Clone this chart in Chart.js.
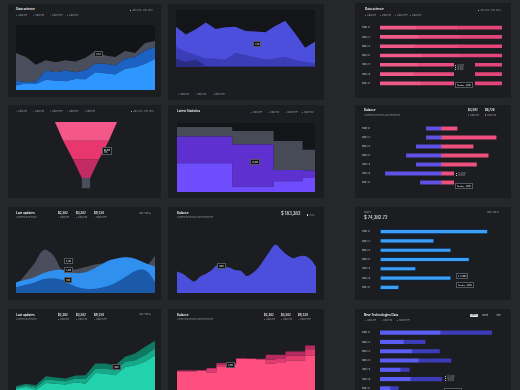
<!DOCTYPE html>
<html>
<head>
<meta charset="utf-8">
<title>Dashboard</title>
<script src="https://cdn.jsdelivr.net/npm/chart.js@4.4.1/dist/chart.umd.min.js"></script>
<style>
  html, body { margin: 0; padding: 0; }
  body { position: relative; width: 520px; height: 390px; overflow: hidden; background: #26272b; font-family: Inter, Roboto, sans-serif; }
  .card { position: absolute; background: #1c1d21; overflow: hidden; }
  .plot { position: absolute; }
  .txt { position: absolute; white-space: nowrap; line-height: 1; }
  .title { font-size: 3px; color: #fff; font-weight: 600; }
  .sub { font-size: 2px; color: #8b8d96; }
  .leg { font-size: 2px; color: #9a9ca5; }
  .val { font-size: 2.8px; color: #fff; font-weight: 600; }
  .big { font-size: 4.2px; color: #fff; }
  .pill { font-size: 2px; color: #c9cad0; padding: 0.6px 1.2px; border-radius: 1px; }
  .pill.on { background: #e8e9ec; color: #1c1d21; }
  .dot { display: inline-block; width: 1.3px; height: 1.3px; border-radius: 50%; margin-right: 1px; vertical-align: middle; }
  .tip { position: absolute; background: #111215; border: 0.5px solid #55575f; color: #fff; font-size: 1.8px; line-height: 1.4; padding: 0.5px 1px; white-space: nowrap; }
  .cover { position: absolute; background: #1c1d21; }
</style>
</head>
<body>

<div class="card" id="c1" style="left:8px;top:4px;width:153px;height:93px">
  <div class="plot" style="left:1px;top:21px;width:146px;height:65px"><canvas id="science"></canvas></div>
</div>
<div class="card" id="c2" style="left:168px;top:4px;width:156px;height:96px">
  <div class="plot" style="left:2px;top:6px;width:145px;height:71px"><canvas id="wave"></canvas></div>
</div>
<div class="card" id="c3" style="left:355px;top:3px;width:156px;height:95px">
  <div class="plot" style="left:7px;top:20px;width:140px;height:70px"><canvas id="pinkBars"></canvas></div>
</div>

<div class="card" id="c4" style="left:8px;top:105px;width:153px;height:93px">
  <div class="plot" style="left:1px;top:16px;width:146px;height:70px"><canvas id="funnel"></canvas></div>
</div>
<div class="card" id="c5" style="left:168px;top:105px;width:156px;height:93px">
  <div class="plot" style="left:3px;top:18px;width:144px;height:69px"><canvas id="stats"></canvas></div>
</div>
<div class="card" id="c6" style="left:355px;top:105px;width:156px;height:93px">
  <div class="plot" style="left:7px;top:19px;width:135px;height:68px"><canvas id="balanceSplit"></canvas></div>
</div>

<div class="card" id="c7" style="left:8px;top:207px;width:153px;height:93px">
  <div class="plot" style="left:1px;top:18px;width:146px;height:68px"><canvas id="updates"></canvas></div>
</div>
<div class="card" id="c8" style="left:168px;top:207px;width:156px;height:93px">
  <div class="plot" style="left:2px;top:18px;width:146px;height:68px"><canvas id="balanceLine"></canvas></div>
</div>
<div class="card" id="c9" style="left:355px;top:207px;width:156px;height:93px">
  <div class="plot" style="left:7px;top:20px;width:140px;height:70px"><canvas id="blueBars"></canvas></div>
</div>

<div class="card" id="c10" style="left:8px;top:309px;width:153px;height:100px">
  <div class="plot" style="left:1px;top:16px;width:146px;height:68px"><canvas id="teal"></canvas></div>
</div>
<div class="card" id="c11" style="left:168px;top:309px;width:156px;height:100px">
  <div class="plot" style="left:2px;top:16px;width:145px;height:68px"><canvas id="pinkSteps"></canvas></div>
</div>
<div class="card" id="c12" style="left:355px;top:309px;width:156px;height:100px">
  <div class="plot" style="left:7px;top:19px;width:140px;height:70px"><canvas id="techBars"></canvas></div>
</div>

<script>
// ---- data ----
const weekDays = ['Monday 21', 'Thursday 22', 'Monday 23', 'Thursday 24', 'Friday 25', 'Saturday 26', 'Sunday 27'];
const dayLabels = ['01', '02', '03', '04', '05', '06', '07', '08', '09', '10', '11', '12', '13',
  '14', '15', '16', '17', '18', '19', '20', '21', '22', '23', '24', '25'];
const monthLabels = ['Jan', 'Feb', 'Mar', 'Apr', 'May', 'Jun', 'Jul', 'Aug', 'Sep', 'Oct', 'Nov', 'Dec', 'Jan', '', ''];
const hundreds = [100, 200, 300, 400];
const barTicks = [0, 100, 200, 300, 400, 500, 600, 700, 800];
const splitTicks = [-400, -300, -200, -100, 0, 100, 200, 300, 400];

// Data science (stacked area)
const scienceLight = [29, 44, 40, 67, 62, 58, 73, 71, 118, 111, 102, 140, 151, 173, 207];
const scienceBlue = [33, 7, 16, 62, 56, 71, 45, 58, 55, 62, 60, 67, 67, 89, 77];
const scienceGray = [182, 167, 111, 67, 66, 67, 71, 84, 85, 56, 56, 51, 26, 49, 40];

// purple waves (overlapping areas)
const wavePurple = [214, 167, 198, 239, 200, 210, 214, 188, 184, 180, 218, 251, 173, 86, 122];
const waveMid = [92, 61, 41, 20, 20, 14, 55, 41, 27, 14, 20, 31, 10, 0, -10];
const waveDark = [20, 0, 14, -26, -26, -26, -26, -26, -26, -26, -26, -26, -26, -26, -26];
const waveTicks = [0, 100, 200, 300];

// Data science (pink bars)
const pinkA = [260, 280, 250, 300, 270, 240, 290];
const pinkB = [300, 300, 320, 280, 300, 320, 280];
const pinkC = [330, 310, 320, 310, 320, 330, 320];

// funnel
const funnelStages = ['Visits', 'Leads', 'Deals'];
const funnelWidths = [90, 66, 38, 12];
const funnelTickValues = [0, 0.9, 1.8, 2.7, 3.6];
const funnelTickLabels = ['500', '400', '300', '200', '100'];

// Latest Statistics (variable width stacked steps)
const statShares = [40, 30, 21, 9];
const statLow = [43, 8, 16, 21];
const statMid = [40, 63, 17, 11];
const statTop = [14, 20, 43, 31];
const statTicks = [10, 20, 30, 40, 50, 60, 70, 80, 90, 100];

// Balance (diverging bars)
const balanceOut = [-113, -113, -190, -267, -190, -428, -159];
const balanceIn = [123, 423, 246, 362, 272, 103, 136];

// Last updates (smooth overlapping areas)
const updGray = [33, 107, 184, 273, 240, 140, 140, 151, 167, 180, 184, 189, 196, 189, 167, 233];
const updLight = [56, 73, 91, 118, 136, 140, 122, 118, 136, 167, 202, 218, 224, 211, 184, 162];
const updDark = [24, 40, 56, 78, 84, 73, 40, 18, 11, 18, 33, 62, 100, 136, 136, 62];

// Balance trend
const balanceTrend = [133, 118, 89, 67, 100, 118, 144, 178, 167, 160, 144, 138, 104,
  122, 156, 211, 267, 311, 278, 244, 222, 233, 238, 216, 167];

// Balance bars
const balanceBars = [788, 395, 520, 654, 263, 520, 139];

// Last updates (teal stacked)
const tealLow = [27, 40, 22, 67, 62, 56, 71, 62, 133, 129, 118, 173, 184, 207, 251];
const tealMid = [9, 11, 14, 22, 22, 22, 25, 31, 29, 33, 33, 34, 34, 44, 45];
const tealTop = [8, 11, 15, 22, 18, 18, 20, 25, 34, 34, 33, 33, 44, 56, 51];

// Balance (pink steps)
const stepLow = [144, 144, 149, 138, 178, 187, 227, 227, 222, 196, 200, 218, 218, 249];
const stepMid = [5, 5, 2, 22, 11, 9, 4, 2, 5, 26, 27, 31, 31, 44];
const stepTop = [3, 3, 3, 7, 11, 3, 2, 2, 2, 34, 29, 29, 29, 25];

// New Technologies Data
const techLight = [439, 171, 232, 280, 146, 220, 73];
const techDark = [378, 159, 202, 239, 68, 232, 61];

// legends / header texts
const dataNames = ['Data One', 'Data Two', 'Data Three', 'Data Four', 'Data Five'];

// ---- chart setup ----
Chart.defaults.animation = false;
Chart.defaults.responsive = true;
Chart.defaults.maintainAspectRatio = false;
Chart.defaults.font.family = 'Inter, Roboto, sans-serif';
Chart.defaults.font.size = 2.2;
Chart.defaults.color = '#c9cad0';
Chart.defaults.plugins.legend.display = false;
Chart.defaults.plugins.tooltip.enabled = false;

Chart.register({
  id: 'plotBg',
  beforeDraw(chart, args, opts) {
    if (!opts.color) return;
    const { ctx, chartArea: a } = chart;
    ctx.save();
    ctx.fillStyle = opts.color;
    ctx.fillRect(a.left, a.top, a.right - a.left, a.bottom - a.top);
    ctx.restore();
  }
});

const clear = 'rgba(0,0,0,0)';
const ticksAt = values => axis => { axis.ticks = values.map(v => ({ value: v })); };
const fixY = w => s => { s.width = w; s.paddingTop = 0; s.paddingBottom = 0; };
const fixX = h => s => { s.height = h; s.paddingLeft = 0; s.paddingRight = 0; };
const quiet = { grid: { display: false }, border: { display: false } };

function area(data, color, fill, tension) {
  return { data, backgroundColor: color, borderColor: clear, borderWidth: 0, fill,
    pointRadius: 0, tension: tension || 0 };
}

function yAxis(width, min, max, ticks, extra) {
  return Object.assign({ ...quiet, min, max, afterBuildTicks: ticksAt(ticks), afterFit: fixY(width),
    ticks: { padding: 3 } }, extra || {});
}

// Data science
new Chart(document.getElementById('science'), {
  type: 'line',
  data: {
    labels: dayLabels.slice(0, 15),
    datasets: [
      area(scienceLight, '#2f96ff', 'origin'),
      area(scienceBlue, '#1b62c4', '-1'),
      area(scienceGray, '#4a4e5c', '-1')
    ]
  },
  options: {
    plugins: { plotBg: { color: '#131417' } },
    scales: {
      x: { display: false },
      y: yAxis(7, 0, 430, hundreds, { stacked: true })
    }
  }
});

// purple waves
new Chart(document.getElementById('wave'), {
  type: 'line',
  data: {
    labels: monthLabels,
    datasets: [
      area(waveDark, '#2b2d85', 'start'),
      area(waveMid, '#3a3db6', 'start'),
      area(wavePurple, '#4b4fdc', 'start')
    ]
  },
  options: {
    plugins: { plotBg: { color: '#141518' } },
    scales: {
      x: { ...quiet, afterFit: fixX(14), ticks: { padding: 9, autoSkip: false, maxRotation: 0 } },
      y: yAxis(6, -32, 316, waveTicks)
    }
  }
});

function hbar(data, color, thickness) {
  return { data, backgroundColor: color, barThickness: thickness, borderWidth: 0 };
}

function barScales(max, ticks, yWidth, stacked) {
  return {
    x: { ...quiet, stacked, min: 0, max, afterBuildTicks: ticksAt(ticks), afterFit: fixX(5),
      ticks: { padding: 1 } },
    y: { ...quiet, stacked, afterFit: fixY(yWidth), ticks: { padding: 2 } }
  };
}

// pink bars
new Chart(document.getElementById('pinkBars'), {
  type: 'bar',
  data: {
    labels: weekDays,
    datasets: [hbar(pinkA, '#ef5a88', 3), hbar(pinkB, '#e94c7e', 3), hbar(pinkC, '#e34678', 3)]
  },
  options: { indexAxis: 'y', scales: barScales(890, barTicks, 18, true) }
});

// funnel
const STEM = 0.55;
const funnelColors = ['#f4578a', '#e8376f', '#c22b66'];
const funnelSets = funnelStages.map((name, i) => ({
  label: name,
  data: [
    { x: -funnelWidths[i] / 2, y: i }, { x: funnelWidths[i] / 2, y: i },
    { x: funnelWidths[i + 1] / 2, y: i + 1 }, { x: -funnelWidths[i + 1] / 2, y: i + 1 }
  ],
  backgroundColor: funnelColors[i], borderColor: clear, borderWidth: 0, fill: 'shape', pointRadius: 0
}));
const neck = funnelWidths[funnelWidths.length - 1];
const base = funnelStages.length;
funnelSets.push({
  label: 'Won',
  data: [
    { x: -neck / 2, y: base }, { x: neck / 2, y: base },
    { x: neck / 2, y: base + STEM }, { x: -neck / 2, y: base + STEM }
  ],
  backgroundColor: '#4a4d5b', borderColor: clear, borderWidth: 0, fill: 'shape', pointRadius: 0
});
new Chart(document.getElementById('funnel'), {
  type: 'line',
  data: { datasets: funnelSets },
  options: {
    layout: { padding: { top: 1 } },
    scales: {
      x: { type: 'linear', display: false, min: -100, max: 100 },
      y: yAxis(8, 0, 3.7, funnelTickValues, {
        reverse: true,
        ticks: { padding: 3, callback: (v, i) => funnelTickLabels[i] }
      })
    }
  }
});

// Latest Statistics
const statEdges = statShares.reduce((acc, s) => { acc.push(acc[acc.length - 1] + s); return acc; }, [0]);
const stepPoints = vals => vals.map((v, i) => ({ x: statEdges[i], y: v }))
  .concat([{ x: statEdges[vals.length], y: vals[vals.length - 1] }]);
new Chart(document.getElementById('stats'), {
  type: 'line',
  data: {
    datasets: [
      { ...area(stepPoints(statLow), '#6f4dff', 'origin'), stepped: true },
      { ...area(stepPoints(statMid), '#5e30cf', '-1'), stepped: true },
      { ...area(stepPoints(statTop), '#474a57', '-1'), stepped: true }
    ]
  },
  options: {
    plugins: { plotBg: { color: '#141518' } },
    scales: {
      x: { type: 'linear', display: false, min: 0, max: 100 },
      y: yAxis(6, 0, 103, statTicks, { stacked: true })
    }
  }
});

// Balance split
new Chart(document.getElementById('balanceSplit'), {
  type: 'bar',
  data: {
    labels: weekDays,
    datasets: [hbar(balanceOut, '#6152e6', 3.3), hbar(balanceIn, '#ec507d', 3.3)]
  },
  options: {
    indexAxis: 'y',
    scales: {
      x: { ...quiet, stacked: true, min: -470, max: 430, afterBuildTicks: ticksAt(splitTicks),
        afterFit: fixX(5), ticks: { padding: 1 } },
      y: { ...quiet, stacked: true, afterFit: fixY(18), ticks: { padding: 2 } }
    }
  }
});

// Last updates (smooth)
new Chart(document.getElementById('updates'), {
  type: 'line',
  data: {
    labels: dayLabels.slice(0, 16),
    datasets: [
      area(updDark, '#1b5aa9', 'start', 0.4),
      area(updLight, '#2f90f0', 'start', 0.4),
      area(updGray, '#4a4e5c', 'start', 0.4)
    ]
  },
  options: { scales: { x: { display: false }, y: yAxis(7, -15, 440, hundreds) } }
});

// Balance trend
new Chart(document.getElementById('balanceLine'), {
  type: 'line',
  data: { labels: dayLabels, datasets: [area(balanceTrend, '#4b4fdc', 'start', 0.35)] },
  options: { scales: { x: { display: false }, y: yAxis(7, -10, 443, hundreds) } }
});

// Balance bars
new Chart(document.getElementById('blueBars'), {
  type: 'bar',
  data: {
    labels: weekDays,
    datasets: [{ data: balanceBars, backgroundColor: '#3a9ff5', borderColor: '#0e2a4a', borderWidth: 1,
      borderSkipped: false, barThickness: 4.5 }]
  },
  options: { indexAxis: 'y', scales: barScales(892, barTicks, 18, false) }
});

// teal stacked
new Chart(document.getElementById('teal'), {
  type: 'line',
  data: {
    labels: dayLabels.slice(0, 15),
    datasets: [
      area(tealLow, '#22d2ae', 'origin'),
      area(tealMid, '#16a98a', '-1'),
      area(tealTop, '#0e7a63', '-1')
    ]
  },
  options: { scales: { x: { display: false }, y: yAxis(7, 0, 451, hundreds, { stacked: true }) } }
});

// pink steps
const withEnd = vals => vals.concat([vals[vals.length - 1]]);
new Chart(document.getElementById('pinkSteps'), {
  type: 'line',
  data: {
    labels: dayLabels.slice(0, 15),
    datasets: [
      { ...area(withEnd(stepLow), '#ff4f80', 'origin'), stepped: true },
      { ...area(withEnd(stepMid), '#e03a6e', '-1'), stepped: true },
      { ...area(withEnd(stepTop), '#b52a60', '-1'), stepped: true }
    ]
  },
  options: { scales: { x: { display: false }, y: yAxis(7, 0, 455, hundreds, { stacked: true }) } }
});

// New Technologies Data
new Chart(document.getElementById('techBars'), {
  type: 'bar',
  data: { labels: weekDays, datasets: [hbar(techLight, '#5b5ef2', 3.5), hbar(techDark, '#3d3cb8', 3.5)] },
  options: { indexAxis: 'y', scales: barScales(892, barTicks, 18, true) }
});

// ---- header texts ----
function put(card, html, x, y, cls) {
  const el = document.createElement('div');
  el.className = 'txt ' + cls;
  el.style.left = x + 'px';
  el.style.top = y + 'px';
  el.innerHTML = html;
  document.getElementById(card).appendChild(el);
  return el;
}
function legend(card, names, colors, x0, step, y) {
  names.forEach((n, i) => put(card, '<span class="dot" style="background:' + colors[i] + '"></span>' + n,
    x0 + i * step, y, 'leg'));
}
function tip(card, html, x, y) {
  const el = document.createElement('div');
  el.className = 'tip';
  el.style.left = x + 'px';
  el.style.top = y + 'px';
  el.innerHTML = html;
  document.getElementById(card).appendChild(el);
}
function cover(card, x, y, w, h) {
  const el = document.createElement('div');
  el.className = 'cover';
  el.style.cssText = 'left:' + x + 'px;top:' + y + 'px;width:' + w + 'px;height:' + h + 'px';
  document.getElementById(card).appendChild(el);
}
const calendar = '<span class="dot" style="border-radius:0.3px;background:#c9cad0"></span>Jan 2020 - Dec 2020';

put('c1', 'Data science', 8, 4, 'title');
legend('c1', dataNames.slice(0, 4), ['#2f96ff', '#1b62c4', '#4a4e5c', '#8b8d96'], 8, 17, 10);
put('c1', calendar, 122, 5, 'leg');
tip('c1', '1,234', 86, 47);

legend('c2', dataNames.slice(0, 3), ['#4b4fdc', '#3a3db6', '#2b2d85'], 10, 17, 89);
tip('c2', '2,140', 85, 37);

put('c3', 'Data science', 10, 5, 'title');
legend('c3', dataNames.slice(0, 4), ['#ef5a88', '#e94c7e', '#e34678', '#8b8d96'], 10, 15, 11);
put('c3', calendar, 123, 6, 'leg');
cover('c3', 99, 59, 21, 26);
put('c3', '<span class="dot" style="background:#fff"></span>20,000<br><span class="dot" style="background:#fff"></span>18,000<br><span class="dot" style="background:#fff"></span>16,000', 100, 61, 'leg');
tip('c3', 'Tuesday &nbsp; 4,000', 100, 79);

legend('c4', dataNames, ['#3f47d8', '#3f47d8', '#3f47d8', '#3f47d8', '#3f47d8'], 8, 17, 5);
put('c4', calendar, 123, 5, 'leg');
tip('c4', '60,000<br>12%', 94, 42);

put('c5', 'Latest Statistics', 9, 5, 'title');
legend('c5', dataNames.slice(0, 4), ['#6f4dff', '#5e30cf', '#474a57', '#8b8d96'], 83, 17, 6);
tip('c5', '24,000', 82, 54);

put('c6', 'Balance', 9, 4, 'title');
put('c6', 'Commercial networks and enterprises', 9, 8.5, 'sub');
put('c6', '$3,592', 113, 4, 'val');
put('c6', '$6,726', 130, 4, 'val');
put('c6', '<span class="dot" style="background:#6152e6"></span>Data One', 113, 8.5, 'leg');
put('c6', '<span class="dot" style="background:#ec507d"></span>Data Two', 130, 8.5, 'leg');
cover('c6', 99, 62, 22, 22);
put('c6', '<span class="dot" style="background:#fff"></span>120,000<br><span class="dot" style="background:#fff"></span>96,000', 101, 67, 'leg');
tip('c6', 'Tuesday &nbsp; 4,000', 100, 78);

put('c7', 'Last updates', 8, 5, 'title');
put('c7', 'Commercial networks', 8, 9, 'sub');
[['$2,382', 50], ['$3,382', 68], ['$9,234', 86]].forEach(([v, x], i) => {
  put('c7', v, x, 4.5, 'val');
  put('c7', '<span class="dot" style="background:' + ['#4a4e5c', '#2f90f0', '#1b5aa9'][i] + '"></span>' + dataNames[i], x, 9, 'leg');
});
put('c7', 'Last 7 days &#9662;', 131, 5, 'leg');
tip('c7', '3,200', 56, 51);
tip('c7', '2,400', 56, 60);
tip('c7', '1,100', 56, 70);

put('c8', 'Balance', 9, 5, 'title');
put('c8', 'Commercial networks and enterprises', 9, 9, 'sub');
put('c8', '$ 183,382', 113, 5, 'big');
put('c8', '<span class="dot" style="background:#fff"></span>2020', 139, 6.5, 'leg');
tip('c8', '1,800', 49, 56);

put('c9', 'Balance', 9, 4, 'sub');
put('c9', '$ 74,382.72', 9, 8.5, 'big');
put('c9', 'Last 7 days &#9662;', 132, 4, 'leg');
tip('c9', '<span class="dot" style="background:#3a9ff5"></span>52,000', 101, 66);
tip('c9', 'Tuesday &nbsp; 4,000', 101, 75);

put('c10', 'Last updates', 8, 5, 'title');
put('c10', 'Commercial networks', 8, 9, 'sub');
[['$2,382', 50], ['$3,382', 68], ['$9,234', 86]].forEach(([v, x], i) => {
  put('c10', v, x, 4.5, 'val');
  put('c10', '<span class="dot" style="background:' + ['#22d2ae', '#16a98a', '#0e7a63'][i] + '"></span>' + dataNames[i], x, 9, 'leg');
});
put('c10', 'Last 7 days &#9662;', 131, 4, 'leg');
tip('c10', '1,600', 104, 55);

put('c11', 'Balance', 9, 5, 'title');
put('c11', 'Commercial networks and enterprises', 9, 9, 'sub');
[['$2,382', 96], ['$3,382', 113], ['$9,234', 130]].forEach(([v, x], i) => {
  put('c11', v, x, 4.5, 'val');
  put('c11', '<span class="dot" style="background:' + ['#ff4f80', '#e03a6e', '#b52a60'][i] + '"></span>' + dataNames[i], x, 9, 'leg');
});
tip('c11', '2,000', 58, 53);

put('c12', 'New Technologies Data', 9, 5, 'title');
legend('c12', dataNames.slice(0, 3), ['#5b5ef2', '#3d3cb8', '#8b8d96'], 10, 16, 10);
put('c12', 'Week', 115, 4.5, 'pill on');
put('c12', 'Month', 126, 4.5, 'pill');
put('c12', 'Year', 140, 4.5, 'pill');
cover('c12', 88, 64, 24, 24);
put('c12', '<span class="dot" style="background:#fff"></span>120,000<br><span class="dot" style="background:#fff"></span>96,000<br><span class="dot" style="background:#fff"></span>48,000', 90, 66, 'leg');
tip('c12', 'Tuesday &nbsp; 4,000', 89, 79);
</script>
</body>
</html>
